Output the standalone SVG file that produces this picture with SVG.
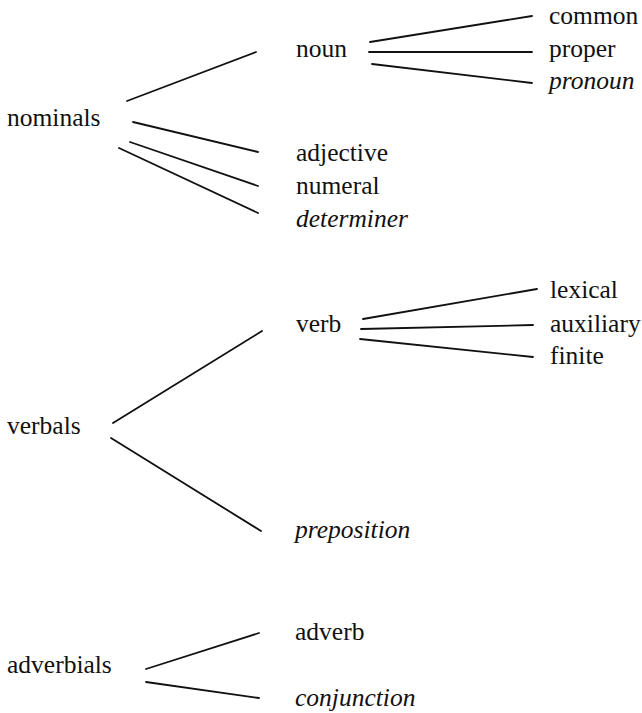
<svg xmlns="http://www.w3.org/2000/svg" width="642" height="713" viewBox="0 0 642 713">
<style>
text { font-family: "Liberation Serif", "Times New Roman", serif; font-size: 25.5px; fill: #111; }
.it { font-style: italic; }
#connectors line { stroke: #111; stroke-width: 1.8; stroke-linecap: round; }
</style>
<rect width="642" height="713" fill="#fff"/>
<g id="connectors">
<line x1="127" y1="101" x2="256" y2="52"/>
<line x1="133" y1="122" x2="258" y2="152"/>
<line x1="130" y1="142" x2="258" y2="186"/>
<line x1="119" y1="148" x2="258" y2="213"/>
<line x1="370" y1="42" x2="532" y2="16"/>
<line x1="369" y1="52" x2="532" y2="52"/>
<line x1="372" y1="64" x2="532" y2="83"/>
<line x1="113" y1="423" x2="262" y2="331"/>
<line x1="111" y1="438" x2="261" y2="531"/>
<line x1="363" y1="319" x2="537" y2="289"/>
<line x1="361" y1="329" x2="533" y2="325"/>
<line x1="360" y1="339" x2="533" y2="357"/>
<line x1="146" y1="669" x2="259" y2="633"/>
<line x1="146" y1="682" x2="259" y2="698"/>
</g>
<g id="nominals"><text x="7" y="126">nominals</text></g>
<g id="noun"><text x="296" y="57">noun</text></g>
<g id="common"><text x="549" y="24">common</text></g>
<g id="proper"><text x="549" y="57">proper</text></g>
<g id="pronoun"><text class="it" x="549" y="89">pronoun</text></g>
<g id="adjective"><text x="296" y="161">adjective</text></g>
<g id="numeral"><text x="296" y="194">numeral</text></g>
<g id="determiner"><text class="it" x="296" y="227">determiner</text></g>
<g id="verbals"><text x="7" y="434">verbals</text></g>
<g id="verb"><text x="296" y="332">verb</text></g>
<g id="lexical"><text x="550" y="298">lexical</text></g>
<g id="auxiliary"><text x="550" y="332">auxiliary</text></g>
<g id="finite"><text x="550" y="364">finite</text></g>
<g id="preposition"><text class="it" x="295" y="538">preposition</text></g>
<g id="adverbials"><text x="7" y="673">adverbials</text></g>
<g id="adverb"><text x="295" y="640">adverb</text></g>
<g id="conjunction"><text class="it" x="295" y="706">conjunction</text></g>
</svg>
